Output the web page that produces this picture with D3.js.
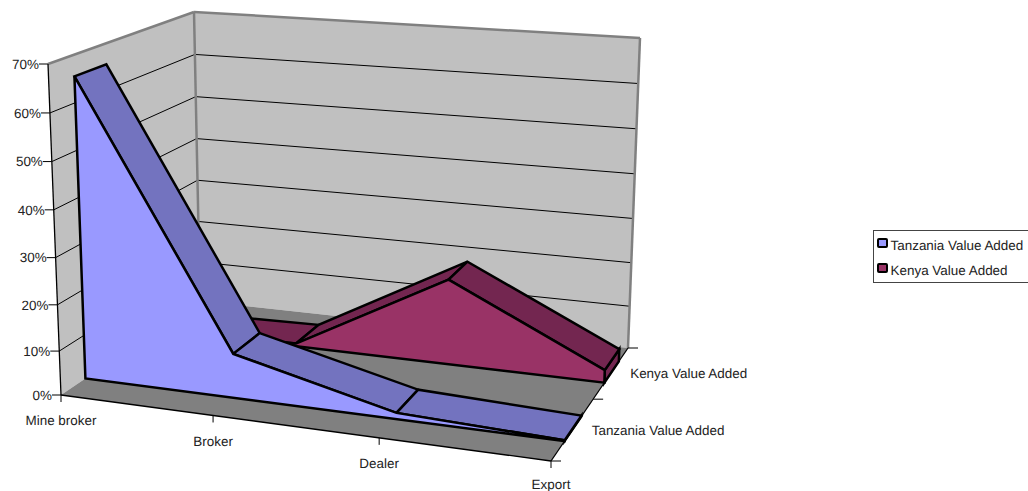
<!DOCTYPE html>
<html>
<head>
<meta charset="utf-8">
<script src="https://cdn.jsdelivr.net/npm/d3@7"></script>
<style>
  html, body { margin: 0; padding: 0; background: #fff; overflow: hidden; }
  svg { display: block; }
  text { font-family: "Liberation Sans", Arial, sans-serif; font-size: 13.45px; fill: #222; text-rendering: geometricPrecision; }
</style>
</head>
<body>
<svg id="chart" width="1028" height="491"></svg>
<script>
// Value added per stage of the trade chain, in percent.
const categories = ["Mine broker", "Broker", "Dealer", "Export"];
const seriesNames = ["Tanzania Value Added", "Kenya Value Added"];
const tanzaniaValues = [65.5, 10, 1.5, 0.2];
const kenyaValues = [0, 0.7, 19.5, 3];
const valueTicks = [0, 10, 20, 30, 40, 50, 60, 70];
const tickLabels = valueTicks.map(v => v + "%");

const faceColors = ["#9999ff", "#993366"];
const topColors = ["#7373bf", "#732650"];

// Box corners of the 3D plot on the page: [front/back][left/right], floor and ceiling.
const floorCorners = { fl: [61, 395], fr: [551, 461], bl: [200, 301], br: [628, 348] };
const ceilCorners = { fl: [48, 64], fr: [556, 105], bl: [194, 12], br: [640, 38] };

// Axis scales; the power exponents approximate the foreshortening of the view.
const xScale = d3.scalePow().exponent(1.065).domain([0, categories.length - 1]).range([0, 1]);
const depthBand = d3.scaleBand().domain(seriesNames).range([0, 1]).paddingInner(0.6).paddingOuter(0.26);
const depthScale = d3.scalePow().exponent(0.87).domain([0, 1]).range([0, 1]);
const valueFront = d3.scalePow().exponent(1.038).domain([0, 70]).range([0, 1]);
const valueBack = d3.scalePow().exponent(1.03).domain([0, 70]).range([0, 1]);

const lerp = (a, b, t) => [a[0] + (b[0] - a[0]) * t, a[1] + (b[1] - a[1]) * t];
function quad(c, x, z) {
  return lerp(lerp(c.fl, c.fr, x), lerp(c.bl, c.br, x), z);
}
// Project (category position, depth position, value) to page coordinates.
function project(cat, depth, value) {
  const x = xScale(cat), z = depthScale(depth);
  const h = valueFront(value) * (1 - z) + valueBack(value) * z;
  return lerp(quad(floorCorners, x, z), quad(ceilCorners, x, z), h);
}

const svg = d3.select("#chart");
const line = d3.line();
const lastCat = categories.length - 1;
const poly = (g, pts, fill, stroke, width) => g.append("path")
  .attr("d", line(pts) + "Z").attr("fill", fill)
  .attr("stroke", stroke || "none").attr("stroke-width", width || 0)
  .attr("stroke-linejoin", "miter");
const seg = (g, a, b, stroke, width) => g.append("path")
  .attr("d", line([a, b])).attr("fill", "none").attr("stroke", stroke).attr("stroke-width", width);

// Walls and floor
const walls = svg.append("g");
poly(walls, [project(0, 0, 0), project(0, 0, 70), project(0, 1, 70), project(0, 1, 0)], "#c0c0c0");
poly(walls, [project(0, 1, 0), project(0, 1, 70), project(lastCat, 1, 70), project(lastCat, 1, 0)], "#c0c0c0");
poly(walls, [project(0, 0, 0), project(lastCat, 0, 0), project(lastCat, 1, 0), project(0, 1, 0)], "#808080");

// Gridlines on both walls
const grid = svg.append("g");
valueTicks.slice(1, -1).forEach(v => {
  seg(grid, project(0, 0, v), project(0, 1, v), "#000", 1);
  seg(grid, project(0, 1, v), project(lastCat, 1, v), "#000", 1);
});
seg(grid, project(0, 0, 70), project(0, 1, 70), "#808080", 2.5);
seg(grid, project(0, 1, 70), project(lastCat, 1, 70), "#808080", 2.5);
seg(grid, project(0, 1, 70), project(0, 1, 0), "#808080", 2.5);
seg(grid, project(lastCat, 1, 70), project(lastCat, 1, 0), "#808080", 2.5);

// Axes: value axis up the front-left edge, categories along the front, series along the right
const axes = svg.append("g");
seg(axes, project(0, 0, 0), project(0, 0, 70), "#000", 1.3);
seg(axes, project(0, 0, 0), project(lastCat, 0, 0), "#000", 1.3);
seg(axes, project(lastCat, 0, 0), project(lastCat, 1, 0), "#000", 1.3);

valueTicks.forEach((v, i) => {
  const p = project(0, 0, v);
  seg(axes, [p[0] - 9, p[1]], p, "#000", 1);
  axes.append("text").attr("x", p[0] - 9).attr("y", p[1]).attr("dy", "0.36em")
    .attr("text-anchor", "end").text(tickLabels[i]);
});
categories.forEach((c, i) => {
  const p = project(i, 0, 0);
  seg(axes, p, [p[0], p[1] + 7], "#000", 1);
  // The last label sits against the bottom edge, so it is held inside the page.
  axes.append("text").attr("x", p[0]).attr("y", Math.min(p[1] + 25.5, 484.5)).attr("dy", "0.36em")
    .attr("text-anchor", "middle").text(c);
});
[0, 0.5, 1].forEach(d => {
  const p = project(lastCat, d, 0);
  seg(axes, p, [p[0] + 10, p[1]], "#000", 1);
});
seriesNames.forEach(name => {
  const mid = depthBand(name) + depthBand.bandwidth() / 2;
  const p = project(lastCat, mid, 0);
  axes.append("text").attr("x", p[0] + 18.5).attr("y", p[1] + 1.5).attr("dy", "0.36em").text(name);
});

// Ribbons, back series first so the nearer one overlaps it
const seriesValues = [tanzaniaValues, kenyaValues];
[1, 0].forEach(s => {
  const g = svg.append("g");
  const values = seriesValues[s];
  const z0 = depthBand(seriesNames[s]);
  const z1 = z0 + depthBand.bandwidth();
  poly(g, [project(lastCat, z0, 0), project(lastCat, z0, values[lastCat]),
           project(lastCat, z1, values[lastCat]), project(lastCat, z1, 0)], topColors[s], "#000", 2.5);
  for (let i = 0; i < lastCat; i++) {
    poly(g, [project(i, z0, values[i]), project(i, z1, values[i]),
             project(i + 1, z1, values[i + 1]), project(i + 1, z0, values[i + 1])],
         topColors[s], "#000", 2.5);
  }
  const front = values.map((v, i) => project(i, z0, v));
  poly(g, [project(0, z0, 0), ...front, project(lastCat, z0, 0)], faceColors[s], "#000", 2.5);
});

// Legend
const legend = svg.append("g");
legend.append("rect").attr("x", 873.5).attr("y", 230.5).attr("width", 170).attr("height", 52)
  .attr("fill", "#fff").attr("stroke", "#444").attr("stroke-width", 1);
seriesNames.forEach((name, i) => {
  const y = 239 + i * 25;
  legend.append("rect").attr("x", 878).attr("y", y).attr("width", 9).attr("height", 8).attr("rx", 1)
    .attr("fill", faceColors[i]).attr("stroke", "#000").attr("stroke-width", 2);
  legend.append("text").attr("x", 890.5).attr("y", y + 6.5).attr("dy", "0.36em").text(name);
});
</script>
</body>
</html>
